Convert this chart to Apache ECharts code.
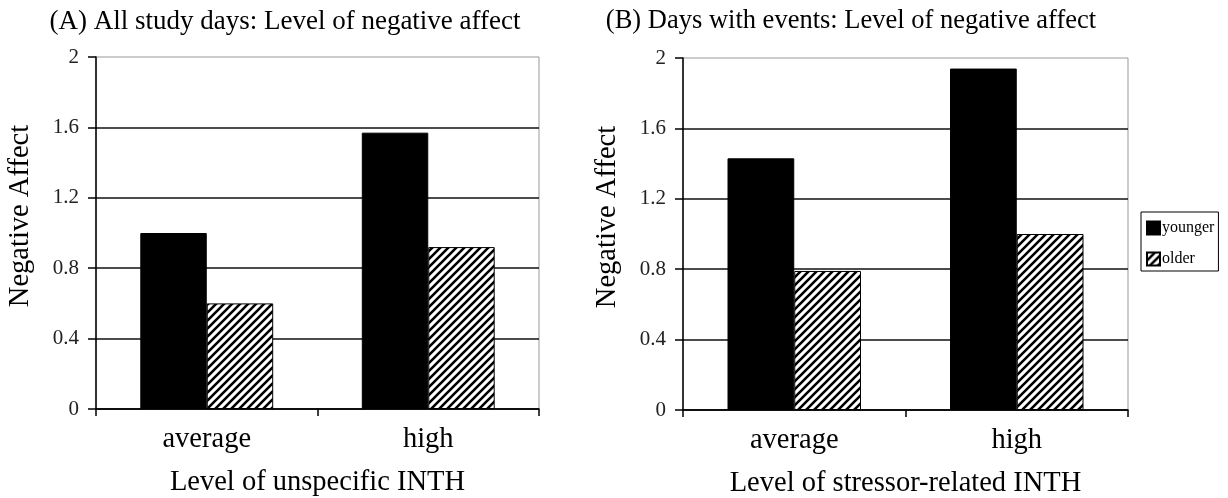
<!DOCTYPE html>
<html>
<head>
<meta charset="utf-8">
<script src="https://cdn.jsdelivr.net/npm/echarts@6/dist/echarts.min.js"></script>
<style>
html,body{margin:0;padding:0;background:#fff;}
#chart{width:1228px;height:498px;}
</style>
</head>
<body>
<div id="chart"></div>
<script>
// ---- data ----
const categories = ['average', 'high'];
const seriesNames = ['younger', 'older'];
const panelA_younger = [1.00, 1.57];
const panelA_older = [0.60, 0.92];
const panelB_younger = [1.43, 1.94];
const panelB_older = [0.79, 1.00];
const titles = ['(A) All study days: Level of negative affect', '(B) Days with events: Level of negative affect'];
const xNames = ['Level of unspecific INTH', 'Level of stressor-related INTH'];
const yName = 'Negative Affect';

// ---- hatch pattern ----
function hatch() {
  const c = document.createElement('canvas');
  c.width = 8; c.height = 8;
  const g = c.getContext('2d');
  g.fillStyle = '#fff'; g.fillRect(0, 0, 8, 8);
  g.strokeStyle = '#000'; g.lineWidth = 2.6;
  g.beginPath();
  g.moveTo(-2, 10); g.lineTo(10, -2);
  g.moveTo(-6, 6); g.lineTo(6, -6);
  g.moveTo(2, 14); g.lineTo(14, 2);
  g.stroke();
  return c;
}
const hatchPattern = { image: hatch(), repeat: 'repeat' };

const FONT = "'Liberation Serif', 'Times New Roman', serif";
const chart = echarts.init(document.getElementById('chart'), null, { renderer: 'canvas' });

const grids = [
  { left: 96, top: 57, width: 443, height: 352 },
  { left: 683, top: 58, width: 445, height: 352 }
];

function xAxis(i) {
  return {
    type: 'category', gridIndex: i, data: categories,
    name: xNames[i], nameLocation: 'middle', nameGap: 59,
    nameTextStyle: { fontFamily: FONT, fontSize: 28.5, color: '#000' },
    axisLine: { lineStyle: { color: '#000', width: 1.5 } },
    axisTick: { show: true, length: 7, lineStyle: { color: '#000', width: 1.5 } },
    axisLabel: { fontFamily: FONT, fontSize: 28.5, color: '#000', margin: 16 },
    splitLine: { show: false }
  };
}
function yAxis(i) {
  return {
    type: 'value', gridIndex: i, min: 0, max: 2, interval: 0.4,
    name: yName, nameLocation: 'middle', nameGap: 61,
    nameTextStyle: { fontFamily: FONT, fontSize: 28.5, color: '#000', padding: [0, 0, 0, 34] },
    axisLine: { show: true, lineStyle: { color: '#000', width: 1.5 } },
    axisTick: { show: true, length: 8, lineStyle: { color: '#000', width: 1.5 } },
    axisLabel: { fontFamily: FONT, fontSize: 21, color: '#222', margin: 17 },
    splitLine: { show: true, showMaxLine: false, lineStyle: { color: '#111', width: 1.5 } }
  };
}
function bar(name, data, i, color) {
  return {
    type: 'bar', name: name, data: data, xAxisIndex: i, yAxisIndex: i,
    barGap: '0%', barCategoryGap: '40%',
    itemStyle: { color: color, borderColor: '#000', borderWidth: 1 },
    emphasis: { disabled: true }
  };
}

chart.setOption({
  animation: false,
  backgroundColor: '#fff',
  title: [
    { text: titles[0], left: 280, top: 3, textAlign: 'center',
      textStyle: { fontFamily: FONT, fontSize: 27, fontWeight: 'normal', color: '#000' } },
    { text: titles[1], left: 846, top: 3, textAlign: 'center',
      textStyle: { fontFamily: FONT, fontSize: 26.5, fontWeight: 'normal', color: '#000' } }
  ],
  grid: grids.map(g => Object.assign({ show: true, borderColor: '#999', borderWidth: 1, backgroundColor: 'transparent', containLabel: false, outerBoundsMode: 'none' }, g)),
  xAxis: [xAxis(0), xAxis(1)],
  yAxis: [yAxis(0), yAxis(1)],
  legend: {
    data: seriesNames, orient: 'vertical', left: 1141, top: 212,
    itemWidth: 13, itemHeight: 13, itemGap: 15, icon: 'rect',
    padding: [8, 4, 4, 5], borderColor: '#000', borderWidth: 1, backgroundColor: '#fff',
    textStyle: { fontFamily: FONT, fontSize: 16, color: '#000', padding: [0, 0, 0, -3] },
    selectedMode: false
  },
  series: [
    bar(seriesNames[0], panelA_younger, 0, '#000'),
    bar(seriesNames[1], panelA_older, 0, hatchPattern),
    bar(seriesNames[0], panelB_younger, 1, '#000'),
    bar(seriesNames[1], panelB_older, 1, hatchPattern)
  ]
});
</script>
</body>
</html>
